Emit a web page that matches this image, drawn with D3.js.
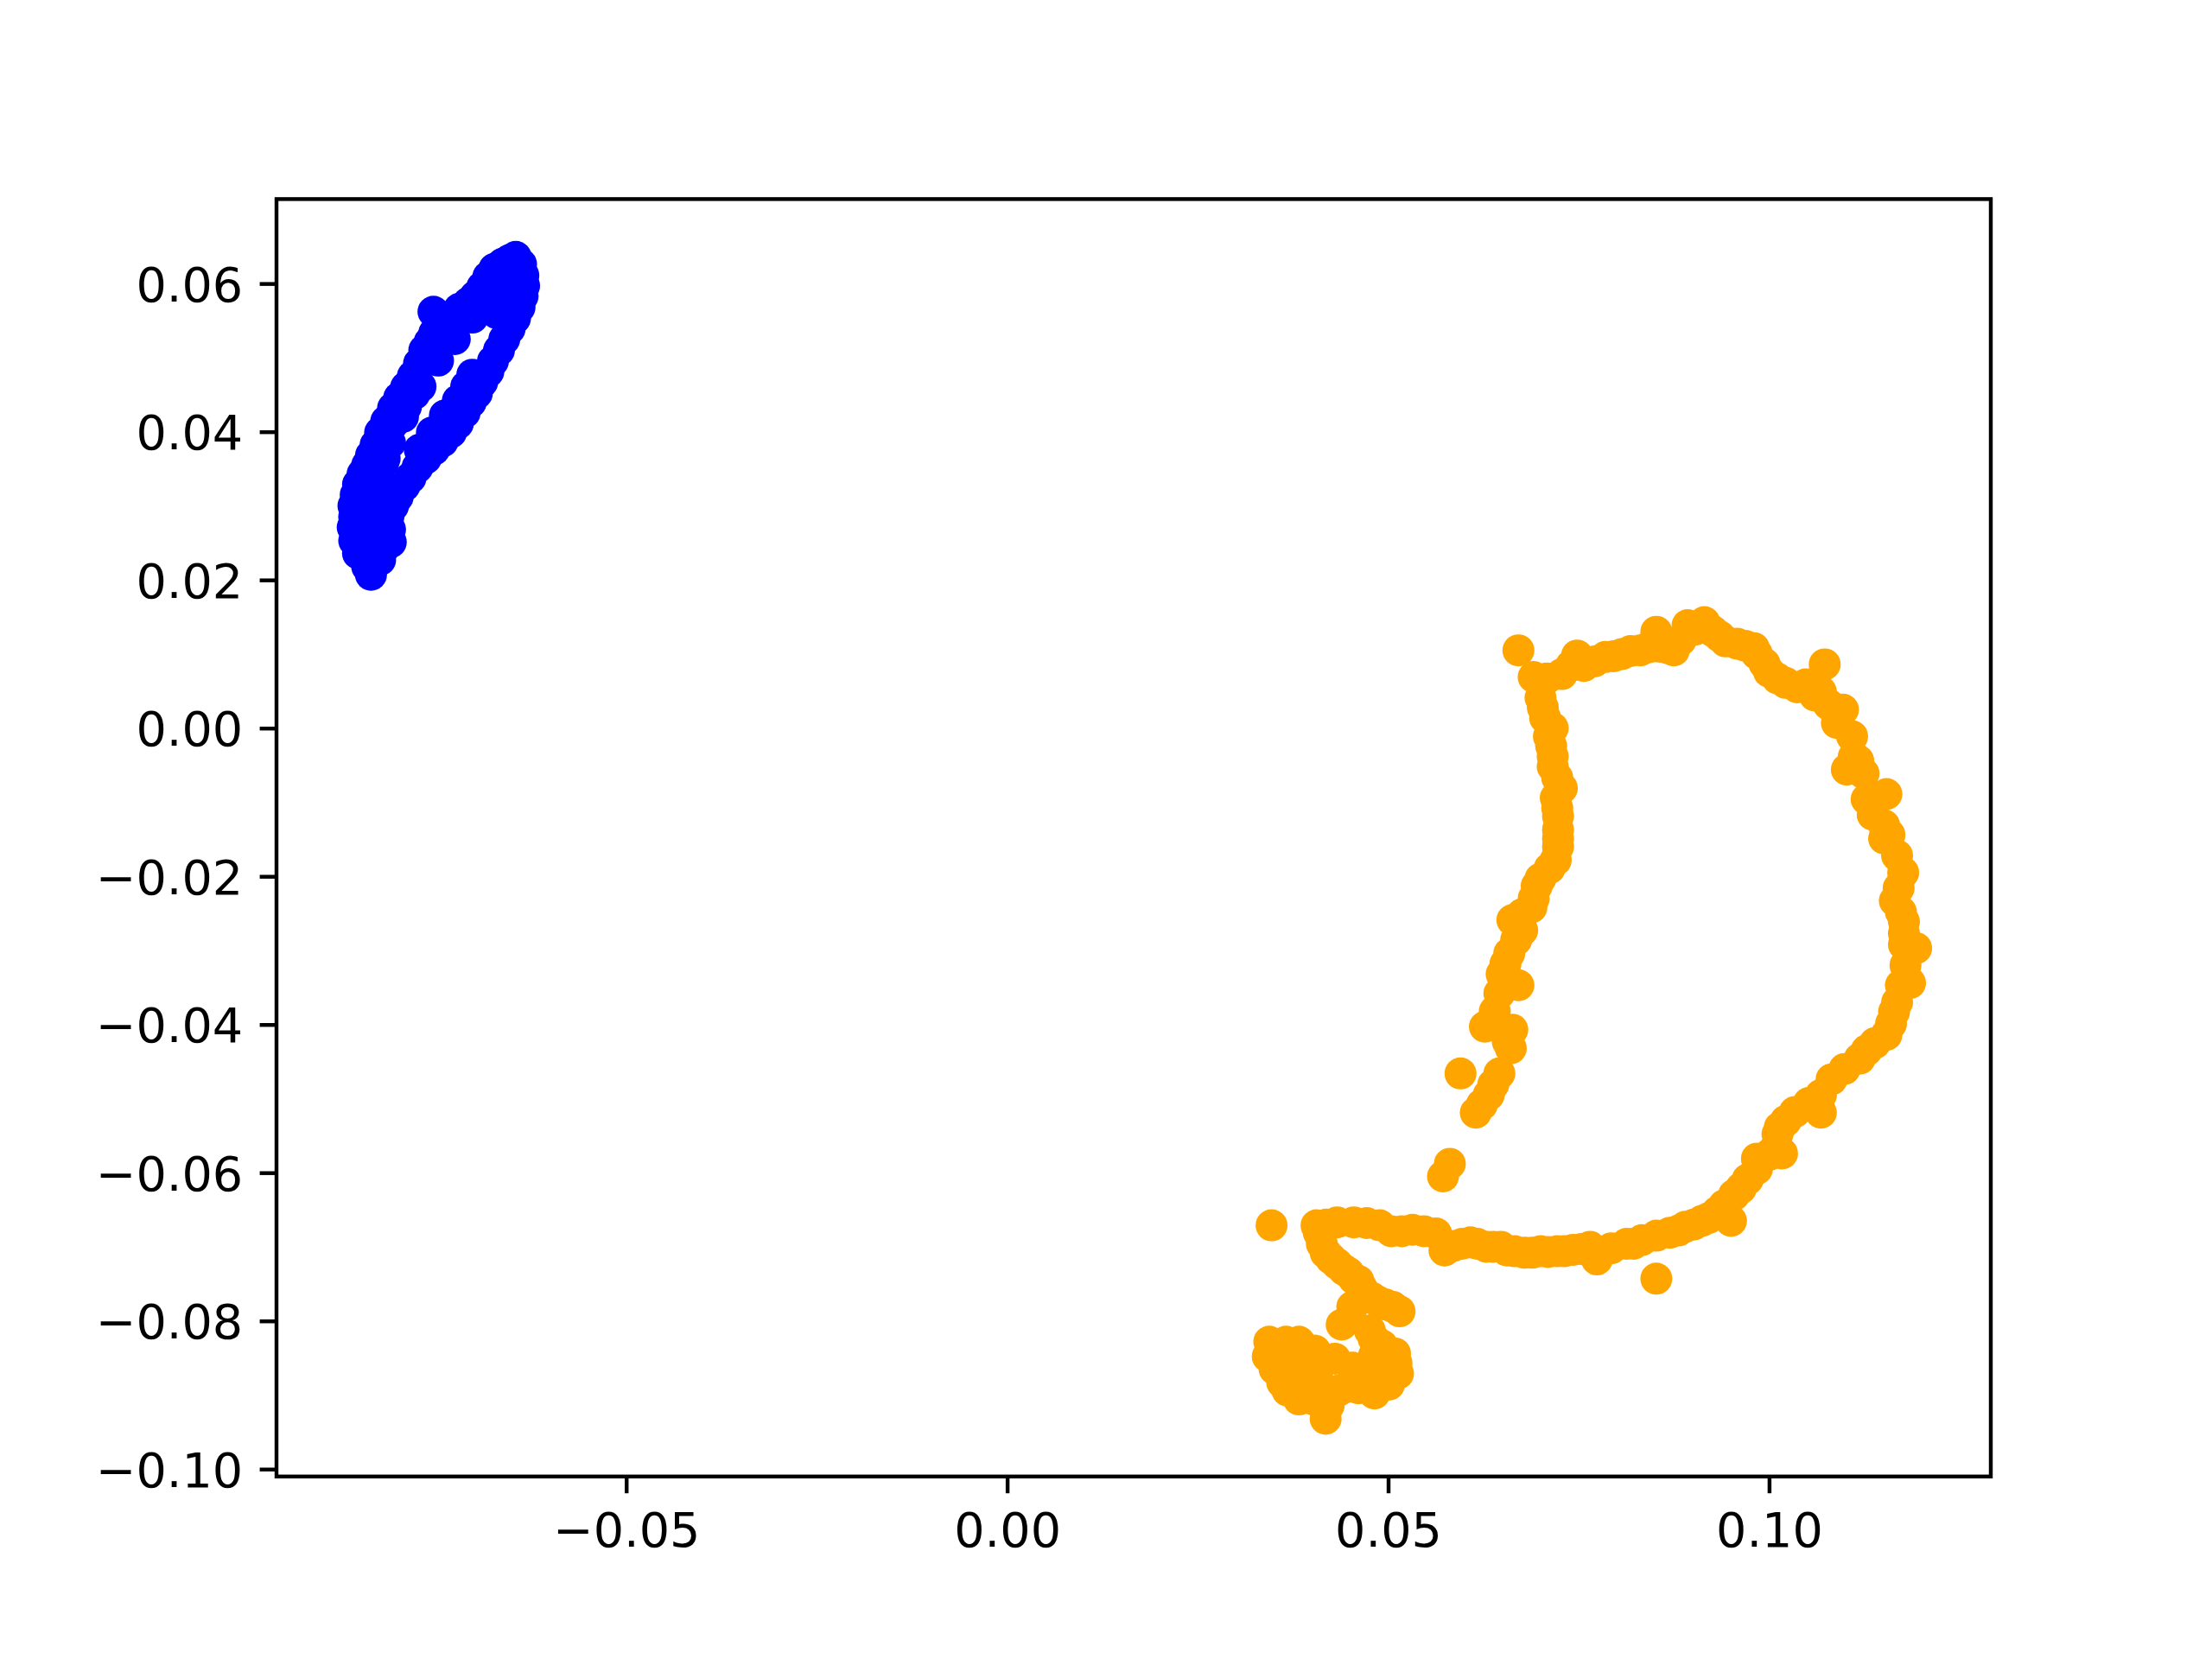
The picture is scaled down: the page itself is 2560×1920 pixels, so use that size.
<!DOCTYPE html>
<html>
<head>
<meta charset="utf-8">
<script src="https://cdn.jsdelivr.net/npm/d3@7"></script>
<style>
  html, body { margin: 0; padding: 0; background: #ffffff; }
  svg { display: block; }
</style>
</head>
<body>
<script>
// ---- data ----
const blueX = [
  -0.0835,-0.0840,-0.0852,-0.0857,-0.0859,-0.0857,-0.0858,-0.0855,-0.0852,-0.0846,
  -0.0840,-0.0835,-0.0829,-0.0823,-0.0815,-0.0806,-0.0798,-0.0789,-0.0780,-0.0772,
  -0.0765,-0.0758,-0.0752,-0.0741,-0.0753,-0.0730,-0.0719,-0.0707,-0.0698,-0.0689,
  -0.0681,-0.0673,-0.0662,-0.0653,-0.0645,
  -0.0638,-0.0635,-0.0634,-0.0636,-0.0640,-0.0646,-0.0653,-0.0660,-0.0667,-0.0675,
  -0.0681,-0.0689,-0.0702,-0.0696,-0.0704,-0.0712,-0.0721,-0.0721,-0.0730,-0.0741,
  -0.0752,-0.0763,-0.0774,-0.0783,-0.0791,-0.0800,-0.0806,-0.0812,-0.0814,-0.0817,
  -0.0819,-0.0823,
  -0.0840,-0.0823,-0.0809,-0.0835,-0.0846,-0.0806,-0.0789,-0.0817,-0.0778,
  -0.0702,-0.0725,-0.0747,-0.0770,-0.0793,-0.0810,-0.0819,-0.0670,-0.0687,
  -0.0710,-0.0738,-0.0755,-0.0771,
  -0.0823,-0.0818,-0.0835,-0.0823,-0.0810,-0.0840,
  -0.0659,-0.0662,-0.0653,-0.0676
];
const blueY = [
  0.0207,0.0218,0.0236,0.0253,0.0271,0.0285,0.0300,0.0315,0.0329,0.0343,
  0.0355,0.0368,0.0382,0.0399,0.0414,0.0432,0.0446,0.0460,0.0475,0.0492,
  0.0510,0.0521,0.0533,0.0545,0.0562,0.0556,0.0566,0.0574,0.0583,0.0595,
  0.0609,0.0620,0.0627,0.0632,0.0636,
  0.0626,0.0611,0.0597,0.0583,0.0568,0.0553,0.0539,0.0525,0.0510,0.0495,
  0.0481,0.0467,0.0477,0.0452,0.0440,0.0426,0.0442,0.0411,0.0399,0.0387,
  0.0376,0.0364,0.0352,0.0338,0.0327,0.0312,0.0300,0.0286,0.0271,0.0257,
  0.0242,0.0227,
  0.0265,0.0259,0.0251,0.0230,0.0245,0.0411,0.0434,0.0364,0.0451,
  0.0554,0.0525,0.0496,0.0461,0.0420,0.0385,0.0358,0.0560,0.0572,
  0.0461,0.0422,0.0399,0.0376,
  0.0329,0.0312,0.0294,0.0277,0.0268,0.0283,
  0.0600,0.0580,0.0615,0.0586
];
const orangeX = [
  0.0671,0.0691,0.0708,0.0728,0.0740,0.0748,0.0757,0.0771,0.0785,0.0796,
  0.0807,0.0818,0.0831,0.0842,0.0852,0.0856,0.0867,0.0875,0.0884,0.0893,
  0.0903,0.0915,0.0926,0.0935,0.0943,0.0958,0.0969,0.0980,0.0984,0.0994,
  0.1000,0.1011,0.1022,0.1037,0.1048,0.1060,0.1068,0.1073,0.1078,0.1089,
  0.1097,0.1109,0.1111,0.1102,0.1117,0.1124,0.1128,0.1139,0.1154,0.1136,
  0.1151,0.1158,0.1151,0.1168,0.1176,0.1170,0.1165,0.1173,0.1177,0.1177,
  0.1177,0.1193,0.1179,0.1185,0.1173,0.1168,0.1164,0.1160,0.1154,0.1139,
  0.1128,0.1119,0.1099,0.1082,0.1068,0.1064,0.1068,0.1052,0.1034,0.1022,
  0.1014,0.1011,0.1006,0.1017,0.1000,0.0984,0.0984,0.0972,0.0963,0.0954,
  0.0950,0.0941,0.0932,0.0921,0.0912,0.0901,0.0890,0.0881,0.0870,0.0852,
  0.0852,0.0833,0.0822,0.0813,0.0793,0.0774,0.0765,0.0754,0.0743,0.0731,
  0.0722,0.0710,0.0700,0.0689,0.0679,0.0666,0.0656,0.0648,0.0638,0.0629,
  0.0617,0.0608,0.0597,0.0585,0.0574,0.0563,0.0547,0.0532,0.0518,0.0504,
  0.0489,0.0472,0.0455,0.0433,0.0419,0.0406,0.0347,
  0.0409,0.0413,0.0418,0.0425,0.0433,0.0442,0.0448,0.0455,0.0461,0.0465,
  0.0470,0.0479,0.0487,0.0497,0.0506,0.0515,0.0453,0.0439,0.0476,0.0481,
  0.0492,0.0509,0.0511,0.0513,0.0501,0.0482,0.0461,0.0447,0.0435,0.0422,
  0.0418,0.0402,0.0383,0.0368,0.0361,0.0351,0.0342,0.0344,0.0366,0.0383,
  0.0404,0.0430,0.0453,0.0475,0.0496,0.0396,0.0375,0.0453,0.0409,0.0385,
  0.0481,
  0.0700,0.0703,0.0706,0.0716,0.0711,0.0714,0.0716,0.0716,0.0722,0.0728,
  0.0720,0.0722,0.0723,0.0723,0.0723,0.0723,0.0720,0.0712,0.0700,0.0695,
  0.0691,0.0688,0.0676,0.0663,0.0676,0.0668,0.0659,0.0654,0.0649,0.0671,
  0.0646,0.0640,0.0627,0.0663,0.0657,0.0661,0.0595,0.0646,0.0638,0.0632,
  0.0623,0.0615,0.0581,0.0572
];
const orangeY = [
  0.0105,0.0069,0.0067,0.0073,0.0084,0.0098,0.0084,0.0090,0.0096,0.0097,
  0.0100,0.0104,0.0105,0.0109,0.0130,0.0110,0.0108,0.0105,0.0119,0.0139,
  0.0133,0.0143,0.0131,0.0124,0.0117,0.0114,0.0111,0.0108,0.0100,0.0087,
  0.0076,0.0067,0.0061,0.0055,0.0059,0.0044,0.0049,0.0086,0.0032,0.0007,
  0.0025,-0.0011,-0.0039,-0.0056,-0.0044,-0.0061,-0.0096,-0.0096,-0.0089,-0.0117,
  -0.0131,-0.0144,-0.0149,-0.0172,-0.0195,-0.0216,-0.0233,-0.0248,-0.0261,-0.0277,
  -0.0292,-0.0297,-0.0320,-0.0344,-0.0347,-0.0370,-0.0383,-0.0399,-0.0414,-0.0425,
  -0.0435,-0.0446,-0.0460,-0.0474,-0.0495,-0.0503,-0.0519,-0.0506,-0.0518,-0.0530,
  -0.0539,-0.0548,-0.0570,-0.0574,-0.0576,-0.0581,-0.0595,-0.0609,-0.0621,-0.0630,
  -0.0665,-0.0644,-0.0653,-0.0661,-0.0665,-0.0670,-0.0673,-0.0678,-0.0681,-0.0685,
  -0.0743,-0.0691,-0.0696,-0.0696,-0.0702,-0.0717,-0.0700,-0.0703,-0.0704,-0.0706,
  -0.0706,-0.0707,-0.0706,-0.0708,-0.0708,-0.0706,-0.0705,-0.0700,-0.0700,-0.0700,
  -0.0696,-0.0694,-0.0696,-0.0699,-0.0705,-0.0682,-0.0679,-0.0677,-0.0679,-0.0679,
  -0.0671,-0.0668,-0.0667,-0.0667,-0.0670,-0.0671,-0.0671,
  -0.0681,-0.0696,-0.0708,-0.0716,-0.0723,-0.0731,-0.0735,-0.0743,-0.0746,-0.0755,
  -0.0763,-0.0769,-0.0774,-0.0778,-0.0781,-0.0787,-0.0781,-0.0805,-0.0813,-0.0824,
  -0.0833,-0.0844,-0.0857,-0.0871,-0.0886,-0.0898,-0.0891,-0.0889,-0.0894,-0.0914,
  -0.0932,-0.0906,-0.0906,-0.0894,-0.0883,-0.0865,-0.0848,-0.0828,-0.0828,-0.0828,
  -0.0840,-0.0851,-0.0863,-0.0868,-0.0863,-0.0868,-0.0875,-0.0883,-0.0883,-0.0854,
  -0.0848,
  0.0041,0.0028,0.0014,0.0000,-0.0011,-0.0024,-0.0038,-0.0052,-0.0067,-0.0081,
  -0.0094,-0.0108,-0.0119,-0.0137,-0.0149,-0.0160,-0.0178,-0.0189,-0.0203,-0.0213,
  -0.0230,-0.0242,-0.0251,-0.0259,-0.0273,-0.0286,-0.0304,-0.0318,-0.0332,-0.0347,
  -0.0358,-0.0382,-0.0403,-0.0407,-0.0423,-0.0432,-0.0466,-0.0466,-0.0481,-0.0495,
  -0.0508,-0.0519,-0.0588,-0.0605
];
const xTicks = [-0.05, 0.00, 0.05, 0.10];
const yTicks = [-0.10, -0.08, -0.06, -0.04, -0.02, 0.00, 0.02, 0.04, 0.06];
const seriesColors = ["#0000ff", "#ffa500"];

(function () {
  // ---- layout ----
  const W = 2560, H = 1920;
  const mLeft = 320, mRight = 2304, mTop = 230.4, mBottom = 1708.8;
  const lw = 4.44, tickLen = 19.4, pad = 19.4, fontSize = 55.6, markerR = 18.5;

  const svg = d3.select("body").append("svg")
    .attr("width", W).attr("height", H)
    .style("font-family", "'DejaVu Sans', sans-serif");

  const x = d3.scaleLinear().domain([-0.0959, 0.1291]).range([mLeft, mRight]);
  const y = d3.scaleLinear().domain([-0.1010, 0.0714]).range([mBottom, mTop]);

  const fmt = d3.format(".2f");

  const blue = blueX.map((v, i) => ({x: v, y: blueY[i]}));
  const orange = orangeX.map((v, i) => ({x: v, y: orangeY[i]}));

  svg.append("g").selectAll("circle").data(blue).join("circle")
    .attr("cx", d => x(d.x)).attr("cy", d => y(d.y)).attr("r", markerR)
    .attr("fill", seriesColors[0]);
  svg.append("g").selectAll("circle").data(orange).join("circle")
    .attr("cx", d => x(d.x)).attr("cy", d => y(d.y)).attr("r", markerR)
    .attr("fill", seriesColors[1]);

  const xAxis = d3.axisBottom(x).tickValues(xTicks).tickFormat(fmt)
    .tickSizeInner(tickLen).tickSizeOuter(0).tickPadding(pad);
  const yAxis = d3.axisLeft(y).tickValues(yTicks).tickFormat(fmt)
    .tickSizeInner(tickLen).tickSizeOuter(0).tickPadding(pad);

  const gx = svg.append("g").attr("transform", `translate(0,${mBottom})`).call(xAxis);
  const gy = svg.append("g").attr("transform", `translate(${mLeft},0)`).call(yAxis);

  [gx, gy].forEach(g => {
    g.select(".domain").remove();
    g.selectAll(".tick line").attr("stroke", "#000").attr("stroke-width", lw);
    g.selectAll(".tick text").attr("fill", "#000")
      .style("font-size", fontSize + "px")
      .style("font-family", "'DejaVu Sans', sans-serif");
  });
  gx.selectAll(".tick text").attr("dy", "0.76em");
  gy.selectAll(".tick text").attr("dy", "0.36em");

  svg.append("rect")
    .attr("x", mLeft).attr("y", mTop)
    .attr("width", mRight - mLeft).attr("height", mBottom - mTop)
    .attr("fill", "none").attr("stroke", "#000").attr("stroke-width", lw)
    .attr("stroke-linejoin", "miter");
})();
</script>
</body>
</html>
